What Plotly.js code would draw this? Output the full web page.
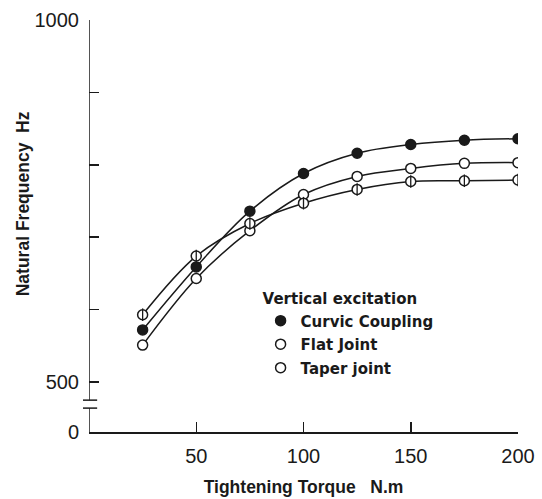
<!DOCTYPE html>
<html>
<head>
<meta charset="utf-8">
<script src="https://cdn.plot.ly/plotly-3.0.1.min.js"></script>
<style>html,body{margin:0;padding:0;background:#fff;}#chart{width:542px;height:499px;}</style>
</head>
<body>
<div id="chart"></div>
<script>
// Data
const torque = [25, 50, 75, 100, 125, 150, 175, 200];
const curvicCoupling = [572, 659, 736, 788, 816, 828, 834, 836];
const flatJoint = [551, 643, 709, 759, 784, 795, 802, 803];
const taperJoint = [593, 674, 719, 747, 766, 777, 778, 779];
const seriesNames = ["Curvic Coupling", "Flat Joint", "Taper joint"];
const yTickVals = [431, 500, 600, 700, 800, 900, 1000];
const yTickText = ["0", "500", "", "", "", "", "1000"];
const xTickVals = [50, 100, 150, 200];

const ink = "#1a1a1a";
const lineStyle = {color: ink, width: 1.5, shape: "spline", smoothing: 1};

function lineTrace(y) {
  return {x: torque, y: y, mode: "lines", line: lineStyle, showlegend: false, hoverinfo: "skip"};
}

const traces = [
  lineTrace(curvicCoupling),
  lineTrace(flatJoint),
  lineTrace(taperJoint),
  {x: torque, y: curvicCoupling, name: seriesNames[0], mode: "markers", legendgroup: "a",
   marker: {symbol: "circle", size: 10, color: ink, line: {color: ink, width: 1.5}}},
  {x: torque, y: flatJoint, name: seriesNames[1], mode: "markers", legendgroup: "b",
   marker: {symbol: "circle", size: 10, color: "#fff", line: {color: ink, width: 1.5}}},
  {x: torque, y: taperJoint, name: seriesNames[2], mode: "markers", legendgroup: "c",
   marker: {symbol: "circle", size: 10, color: "#fff", line: {color: ink, width: 1.5}}},
  {x: torque, y: taperJoint, mode: "markers", showlegend: false, hoverinfo: "skip",
   marker: {symbol: "line-ns-open", size: 9, color: ink, line: {color: ink, width: 1.3}}}
];

const legendFont = {family: "DejaVu Sans, sans-serif", size: 15, color: ink, weight: "bold"};

const layout = {
  width: 542, height: 499,
  margin: {l: 89, r: 24, t: 20, b: 67},
  paper_bgcolor: "#fff", plot_bgcolor: "#fff",
  font: {family: "Liberation Sans, Arial, sans-serif", color: ink},
  showlegend: true,
  legend: {
    x: 0.40, y: 0.357, xanchor: "left", yanchor: "top",
    bgcolor: "rgba(0,0,0,0)",
    font: legendFont,
    title: {text: "Vertical excitation", font: legendFont},
    traceorder: "grouped", tracegroupgap: 1, itemwidth: 30
  },
  xaxis: {
    range: [0, 200], tickvals: xTickVals, ticks: "inside", ticklen: 10, tickwidth: 1.5, tickcolor: ink,
    showline: true, linecolor: ink, linewidth: 1.5, showgrid: false, zeroline: false,
    tickfont: {family: "Liberation Sans, Arial, sans-serif", size: 20, color: ink},
    ticklabelstandoff: 5,
    title: {text: "Tightening Torque&nbsp;&nbsp;&nbsp;N.m", standoff: 15,
      font: {family: "Liberation Sans, Arial, sans-serif", size: 17.5, color: ink, weight: "bold"}}
  },
  yaxis: {
    range: [431, 1000], tickvals: yTickVals, ticktext: yTickText, ticks: "inside", ticklen: 10,
    tickwidth: 1.5, tickcolor: ink, showline: false, showgrid: false, zeroline: false,
    ticklabelstandoff: 9,
    tickfont: {family: "Liberation Sans, Arial, sans-serif", size: 20, color: ink}
  },
  shapes: [
    {type: "line", xref: "x", yref: "y", x0: 0, x1: 0, y0: 1000, y1: 475, line: {color: ink, width: 1.5}},
    {type: "line", xref: "x", yref: "y", x0: 0, x1: 0, y0: 464, y1: 431, line: {color: ink, width: 1.5}},
    {type: "line", xref: "paper", yref: "y", x0: -0.014, x1: 0.019, y0: 475, y1: 475, line: {color: ink, width: 1.5}},
    {type: "line", xref: "paper", yref: "y", x0: -0.014, x1: 0.019, y0: 464, y1: 464, line: {color: ink, width: 1.5}}
  ],
  annotations: [
    {text: "Natural Frequency&nbsp;&nbsp;Hz", xref: "paper", yref: "paper", x: -0.154, y: 0.555,
     xanchor: "center", yanchor: "middle", textangle: -90, showarrow: false,
     font: {family: "Liberation Sans, Arial, sans-serif", size: 17.5, color: ink, weight: "bold"}}
  ]
};

Plotly.newPlot("chart", traces, layout, {staticPlot: true, displayModeBar: false});
</script>
</body>
</html>
